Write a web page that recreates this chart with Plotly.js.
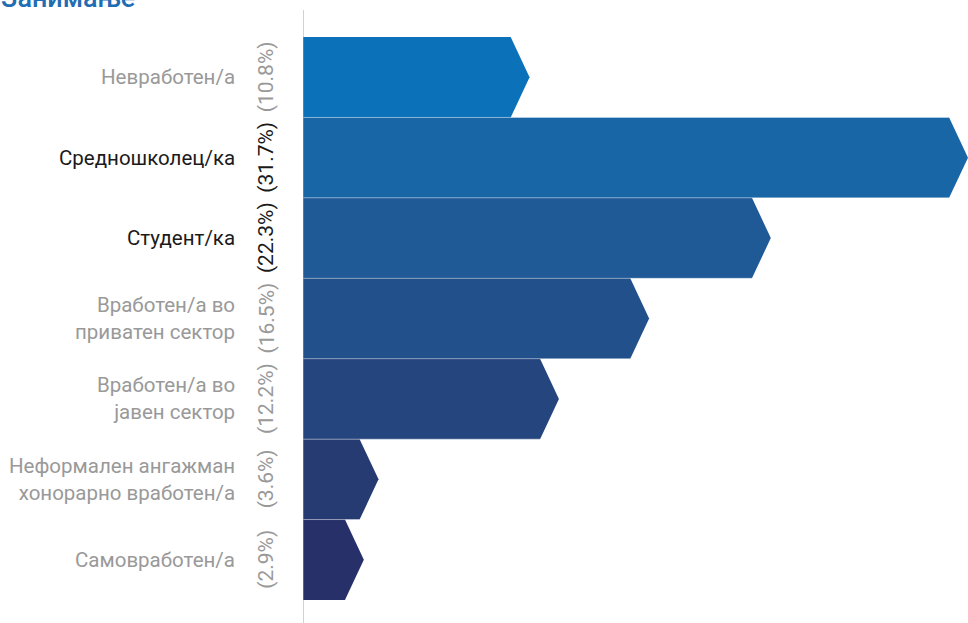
<!DOCTYPE html>
<html>
<head>
<meta charset="utf-8">
<script src="https://cdn.plot.ly/plotly-3.0.1.min.js"></script>
<style>html,body{margin:0;padding:0;background:#fff;}#chart{width:968px;height:623px;}</style>
</head>
<body>
<div id="chart"></div>
<script>
// ---- data ----
const categories = [
  "Невработен/а",
  "Средношколец/ка",
  "Студент/ка",
  "Вработен/а во<br>приватен сектор",
  "Вработен/а во<br>јавен сектор",
  "Неформален ангажман<br>хонорарно вработен/а",
  "Самовработен/а"
];
const values = [10.8, 31.7, 22.3, 16.5, 12.2, 3.6, 2.9];
const pctLabels = ["(10.8%)", "(31.7%)", "(22.3%)", "(16.5%)", "(12.2%)", "(3.6%)", "(2.9%)"];
const highlighted = [false, true, true, false, false, false, false];
const chartTitle = "Занимање";

// ---- styles ----
const barColors = ["#0b71b9", "#1966a7", "#1f5a96", "#22508a", "#25457e", "#273b73", "#28306a"];
const grey = "#999999";
const dark = "#1a1a1a";
const arrowDepth = 0.9; // in x units
const fontFam = "Roboto, 'Noto Sans', sans-serif";

const traces = [];
values.forEach((v, i) => {
  const xe = Math.max(v - arrowDepth, 0);
  traces.push({
    type: "scatter", mode: "lines", fill: "toself",
    x: [0, xe, v, xe, 0, 0],
    y: [i - 0.5, i - 0.5, i, i + 0.5, i + 0.5, i - 0.5],
    fillcolor: barColors[i], line: {width: 0, color: barColors[i]},
    hoverinfo: "skip", showlegend: false
  });
});
// light separator on top edge of each bar (except first)
values.forEach((v, i) => {
  if (i === 0) return;
  const xe = Math.max(v - arrowDepth, 0);
  const prevEnd = values[i - 1];
  traces.push({
    type: "scatter", mode: "lines",
    x: [0, Math.max(xe, prevEnd)],
    y: [i - 0.5, i - 0.5],
    line: {width: 1, color: "rgba(255,255,255,0.35)"},
    hoverinfo: "skip", showlegend: false
  });
});

const L = 303, R = 0, T = 37, B = 23, W = 968, H = 623;
const pw = W - L - R, ph = H - T - B;
const px2paperX = px => (px - L) / pw;
const px2paperY = py => (H - B - py) / ph;

const annotations = [];
categories.forEach((c, i) => {
  annotations.push({
    text: c, x: px2paperX(237), xref: "paper", y: i, yref: "y",
    xanchor: "right", yanchor: "middle", align: "right", showarrow: false,
    font: {family: fontFam, size: 20.5, color: highlighted[i] ? dark : grey}
  });
  annotations.push({
    text: pctLabels[i], x: px2paperX(266), xref: "paper", y: i, yref: "y",
    xanchor: "center", yanchor: "middle", textangle: -90, showarrow: false,
    font: {family: fontFam, size: 21, color: highlighted[i] ? dark : grey}
  });
});
annotations.push({
  text: chartTitle, x: px2paperX(-1), xref: "paper", y: px2paperY(16), yref: "paper",
  xanchor: "left", yanchor: "bottom", showarrow: false,
  font: {family: fontFam, size: 27, weight: 500, color: "#1f6db3"}
});

const layout = {
  width: W, height: H,
  margin: {l: L, r: R, t: T, b: B, pad: 0},
  paper_bgcolor: "#fff", plot_bgcolor: "#fff",
  xaxis: {range: [0, 31.7], visible: false, fixedrange: true},
  yaxis: {range: [6.5, -0.5], visible: false, fixedrange: true},
  showlegend: false,
  annotations: annotations,
  shapes: [{
    type: "line", xref: "x", yref: "paper",
    x0: -0.03, x1: -0.03, y0: px2paperY(623), y1: px2paperY(10),
    line: {color: "#a0a0a0", width: 2.2}, layer: "above"
  }]
};

Plotly.newPlot("chart", traces, layout, {displayModeBar: false, staticPlot: true});
</script>
</body>
</html>
